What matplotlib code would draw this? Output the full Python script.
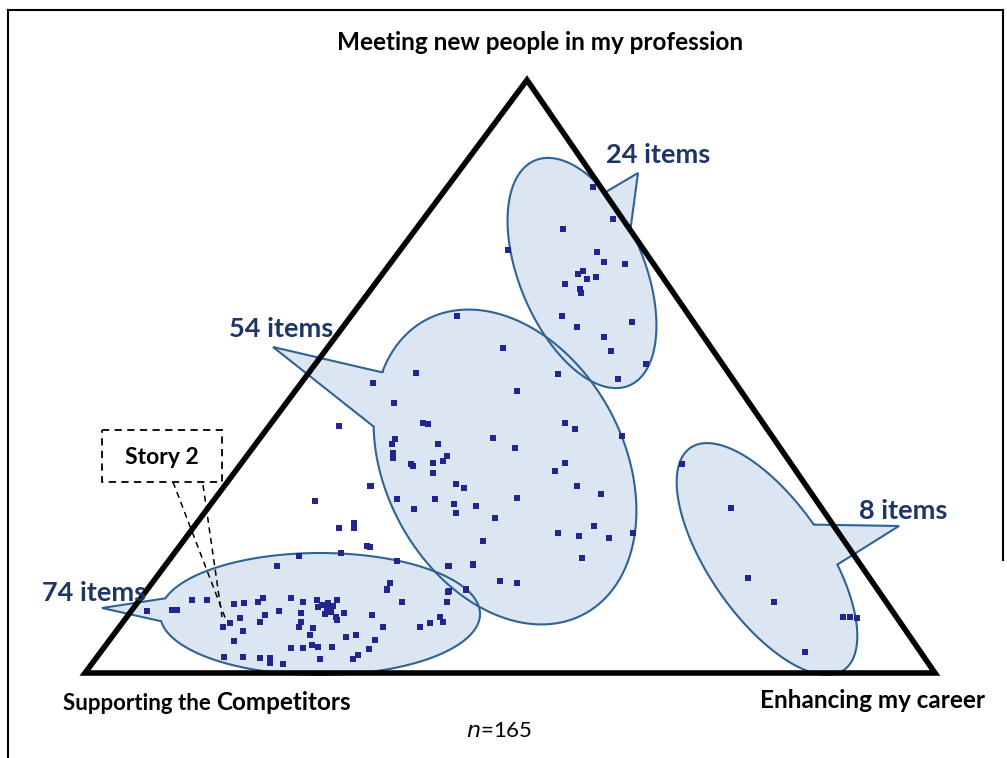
import numpy as np
import matplotlib
matplotlib.use("Agg")
import matplotlib.pyplot as plt
from matplotlib.patches import Polygon, Rectangle

plt.rcParams['font.family'] = ['Lato', 'DejaVu Sans']

# ---------------- data (chart coordinates, y grows downward) ----------------
tri_x = [85, 935, 527]
tri_y = [673, 673, 80]

pts_x = [367, 299, 341, 277, 397, 448, 473, 390, 387, 448, 466, 447, 192, 207, 147, 172, 177,
         234, 244, 258, 263, 291, 303, 279, 301, 265, 260, 240, 230, 223, 344, 372, 402, 440,
         443, 430, 420, 383, 337, 301, 299, 313, 310, 243, 234, 346, 356, 375, 369, 291, 303,
         312, 318, 332, 224, 243, 260, 270, 270, 283, 320, 353, 358,
         322, 327, 331, 325, 333, 318, 336, 328, 317, 337,
         339, 370, 315, 339, 354, 354,
         457, 503, 416, 373, 517, 558, 394, 423, 428, 565, 575, 622, 493, 515, 395, 392, 438,
         393, 393, 447, 443, 411, 413, 433, 433, 565, 555, 456, 464, 577, 601, 397, 435, 414,
         454, 456, 476, 517, 495, 371, 594, 558, 579, 609, 633, 483, 582, 370, 449, 473, 500,
         517, 397, 390, 387, 449, 466,
         593, 613, 563, 508, 597, 604, 625, 583, 578, 587, 596, 565, 580, 581, 562, 577, 632,
         604, 611, 646, 618, 558,
         682, 731, 748, 774, 843, 850, 857, 805]
pts_y = [546, 556, 553, 566, 561, 566, 565, 583, 590, 592, 590, 602, 600, 600, 611, 610, 610,
         604, 603, 602, 598, 598, 602, 611, 613, 615, 622, 618, 623, 627, 613, 615, 602, 617,
         622, 623, 627, 627, 620, 622, 627, 628, 635, 631, 641, 637, 635, 640, 649, 648, 648,
         645, 647, 647, 657, 657, 658, 658, 663, 664, 659, 659, 655,
         605, 608, 612, 614, 606, 607, 617, 603, 600, 600,
         426, 486, 501, 528, 523, 528,
         316, 348, 373, 383, 391, 374, 403, 423, 424, 423, 429, 436, 438, 448, 439, 444, 444,
         453, 458, 456, 461, 464, 466, 463, 473, 463, 471, 484, 488, 486, 494, 499, 499, 509,
         504, 513, 506, 498, 518, 486, 526, 533, 536, 538, 533, 541, 558, 547, 566, 564, 581,
         583, 561, 583, 589, 591, 589,
         187, 219, 229, 250, 252, 262, 264, 271, 274, 279, 277, 284, 289, 293, 316, 327, 322,
         337, 351, 364, 379, 374,
         464, 508, 578, 602, 617, 617, 618, 652]

# callouts: ellipse centre, full width/height, angle, tail base points, tail tip
callout_labels = ["74 items", "54 items", "24 items", "8 items"]
callout_cx = [320, 505, 582, 767]
callout_cy = [614, 467, 273, 559]
callout_w = [320, 334, 244, 270]
callout_h = [122, 238, 125, 116]
callout_ang = [0, 61.6, 67.3, 55.4]
tail_base1 = [(172, 599), (383, 373), (606, 190), (820, 520)]
tail_base2 = [(166, 621), (375, 427), (632, 228), (843, 565)]
tail_tip = [(102, 608), (273, 347), (638, 173), (899, 526)]
label_pos = [(42, 593), (229, 329), (606, 155), (859, 511)]

axis_top = "Meeting new people in my profession"
axis_left_a = "Supporting the"
axis_left_b = "Competitors"
axis_right = "Enhancing my career"

# ---------------- figure ----------------
W, H = 1007, 758
fig = plt.figure(figsize=(W / 100, H / 100), dpi=100)
ax = fig.add_axes([0, 0, 1, 1])
ax.set_xlim(0, W)
ax.set_ylim(H, 0)
ax.set_aspect('equal')
ax.axis('off')

FILL = '#dce6f2'
EDGE = '#2f6394'
NAVY = '#1f3568'


def callout_path(cx, cy, w, h, ang, b1, b2, tip):
    a, b = w / 2.0, h / 2.0
    th = np.deg2rad(ang)
    c, s = np.cos(th), np.sin(th)

    def t_of(p):
        dx, dy = p[0] - cx, p[1] - cy
        qx = c * dx + s * dy
        qy = -s * dx + c * dy
        return np.arctan2(qy / b, qx / a)

    def pt(t):
        x = a * np.cos(t)
        y = b * np.sin(t)
        return cx + c * x - s * y, cy + s * x + c * y

    t1, t2 = t_of(b1), t_of(b2)
    d = (t1 - t2) % (2 * np.pi)
    if d > np.pi:
        ts = np.linspace(t2, t2 + d, 300)
    else:
        ts = np.linspace(t2, t2 - (2 * np.pi - d), 300)
    xs, ys = pt(ts)
    verts = [pt(t1), tip] + list(zip(xs, ys))
    return verts


for i in range(len(callout_labels)):
    v = callout_path(callout_cx[i], callout_cy[i], callout_w[i], callout_h[i],
                     callout_ang[i], tail_base1[i], tail_base2[i], tail_tip[i])
    ax.add_patch(Polygon(v, closed=True, facecolor=FILL, edgecolor='none', zorder=1))
for i in range(len(callout_labels)):
    v = callout_path(callout_cx[i], callout_cy[i], callout_w[i], callout_h[i],
                     callout_ang[i], tail_base1[i], tail_base2[i], tail_tip[i])
    ax.add_patch(Polygon(v, closed=True, facecolor='none', edgecolor=EDGE, lw=1.5, zorder=2))

# triangle
ax.add_patch(Polygon(list(zip(tri_x, tri_y)), closed=True, facecolor='none',
                     edgecolor='black', lw=4, joinstyle='miter', zorder=3))

# points
ax.scatter(pts_x, pts_y, marker='s', s=25, color='#24248f', edgecolors='none', zorder=4)

# callout labels
for lab, (lx, ly) in zip(callout_labels, label_pos):
    ax.text(lx, ly, lab, ha='left', va='center', fontsize=19.5, fontweight='bold',
            color=NAVY, zorder=6)

# Story 2 box
ax.add_patch(Rectangle((102, 430), 120, 52, facecolor='white', edgecolor='black',
                       lw=1.3, ls=(0, (4, 3)), zorder=5))
ax.text(162, 457, "Story 2", ha='center', va='center', fontsize=16.5, fontweight='bold', zorder=6)
ax.plot([173, 226], [482, 620], color='black', lw=1.1, ls=(0, (4, 3)), zorder=5)
ax.plot([203, 222], [485, 617], color='black', lw=1.1, ls=(0, (4, 3)), zorder=5)

# axis labels
ax.text(540, 42, axis_top, ha='center', va='center', fontsize=17.5, fontweight='bold')
ax.text(63, 703, axis_left_a, ha='left', va='center', fontsize=16, fontweight='bold')
ax.text(216, 703, axis_left_b, ha='left', va='center', fontsize=17.5, fontweight='bold')
ax.text(985, 700, axis_right, ha='right', va='center', fontsize=17.5, fontweight='bold')
ax.text(499, 731, r"$\it{n}$=165", ha='center', va='center', fontsize=16)

# frame
ax.plot([8, 8], [H, 10], color='black', lw=1.5)
ax.plot([8, 1003], [10, 10], color='black', lw=1.5)
ax.plot([1003, 1003], [10, 560], color='black', lw=1.5)

fig.savefig("out.png", dpi=100)
